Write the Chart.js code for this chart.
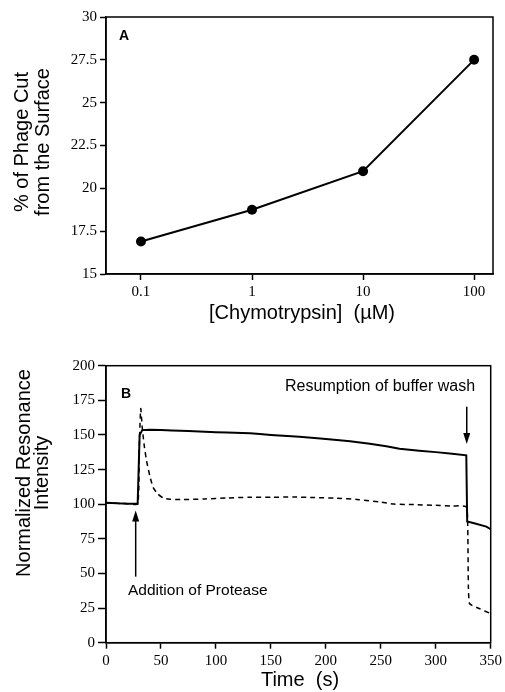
<!DOCTYPE html>
<html>
<head>
<meta charset="utf-8">
<script src="https://cdn.jsdelivr.net/npm/chart.js"></script>
<style>
  html, body { margin: 0; padding: 0; background: #fff; }
  #wrap { position: relative; width: 505px; height: 692px; }
  canvas { position: absolute; left: 0; display: block; }
  #chartA { top: 0; }
  #chartB { top: 330px; }
</style>
</head>
<body>
<div id="wrap">
  <canvas id="chartA" width="505" height="330"></canvas>
  <canvas id="chartB" width="505" height="362"></canvas>
</div>
<script>
// Panel A: % phage cut vs chymotrypsin concentration (log axis)
const concentrations = [0.1, 1, 10, 100];
const percentCut = [16.9, 18.75, 21.0, 27.5];
const concTicks = [0.1, 1, 10, 100];
const percentTicks = [15, 17.5, 20, 22.5, 25, 27.5, 30];

// Panel B: normalized resonance intensity over time
const timeSolid = [0, 10, 20, 28.8, 30.6, 33, 40, 50, 60, 75, 90, 100, 110, 131, 140, 150, 165, 176, 195, 210, 222, 240, 255, 267, 285, 300, 315, 327.8, 328.6, 335, 346, 350];
const intensitySolid = [101, 100.6, 100.4, 100.3, 150, 153.5, 153.8, 153.6, 153.3, 152.8, 152.3, 152, 151.7, 151.2, 150.6, 150, 149.2, 148.7, 147.4, 146.3, 145.5, 143.6, 141.8, 140, 138.6, 137.6, 136.4, 135.3, 87.5, 86.2, 83.8, 82];

const timeDashed = [0, 10, 20, 28.8, 30.2, 31.6, 33, 35, 37, 40, 43, 47, 52, 58, 70, 90, 110, 130, 150, 170, 190, 210, 230, 250, 262, 280, 300, 315, 327.5, 329, 329.7, 330.6, 333, 340, 350];
const intensityDashed = [101, 100.6, 100.4, 100.3, 140, 169, 155, 141, 131, 120, 112, 107.5, 104.5, 103.6, 103.3, 103.8, 104.5, 105, 105, 105.2, 104.8, 104.3, 103.3, 101.5, 100.1, 99.7, 99.2, 98.7, 98.2, 88, 40, 28.5, 27, 24.5, 21];

const timeTicks = [0, 50, 100, 150, 200, 250, 300, 350];
const intensityTicks = [0, 25, 50, 75, 100, 125, 150, 175, 200];

const sansFont = "'Liberation Sans', Arial, Helvetica, sans-serif";
const serifFont = "'Liberation Serif', 'Times New Roman', serif";

function toPoints(xs, ys) {
  return xs.map((x, i) => ({ x: x, y: ys[i] }));
}

// draws the box around the plot area
function drawFrame(chart) {
  const a = chart.chartArea;
  const ctx = chart.ctx;
  ctx.save();
  ctx.strokeStyle = "#000";
  ctx.lineWidth = 1.5;
  ctx.strokeRect(a.left, a.top, a.right - a.left, a.bottom - a.top);
  ctx.restore();
}

function drawArrow(ctx, x, yFrom, yTip) {
  const dir = yTip > yFrom ? 1 : -1;
  ctx.beginPath();
  ctx.moveTo(x, yFrom);
  ctx.lineTo(x, yTip - dir * 8);
  ctx.stroke();
  ctx.beginPath();
  ctx.moveTo(x, yTip);
  ctx.lineTo(x - 3.5, yTip - dir * 11);
  ctx.lineTo(x + 3.5, yTip - dir * 11);
  ctx.closePath();
  ctx.fill();
}

function drawRotatedLines(ctx, lines, cx, cy, lineGap) {
  ctx.save();
  ctx.translate(cx, cy);
  ctx.rotate(-Math.PI / 2);
  ctx.textAlign = "center";
  ctx.textBaseline = "middle";
  lines.forEach((t, i) => {
    ctx.fillText(t, 0, (i - (lines.length - 1) / 2) * lineGap);
  });
  ctx.restore();
}

function axisBase() {
  return {
    border: { display: true, color: "#000", width: 1.5 },
    grid: { display: true, drawOnChartArea: false, drawTicks: true, tickLength: 6, tickColor: "#000", tickWidth: 1.5 },
    ticks: { color: "#000", font: { family: serifFont, size: 15 }, padding: 3, autoSkip: false, maxRotation: 0 }
  };
}

// ---- Chart A ----
const xA = axisBase();
const yA = axisBase();

new Chart(document.getElementById("chartA"), {
  type: "line",
  data: {
    datasets: [{
      data: toPoints(concentrations, percentCut),
      borderColor: "#000",
      borderWidth: 2,
      backgroundColor: "#000",
      pointRadius: 5,
      pointBackgroundColor: "#000",
      pointBorderWidth: 0,
      tension: 0
    }]
  },
  options: {
    responsive: false,
    animation: false,
    layout: { padding: { left: 0, right: 12, top: 17, bottom: 0 } },
    plugins: { legend: { display: false }, tooltip: { enabled: false } },
    scales: {
      x: Object.assign(xA, {
        type: "logarithmic",
        min: 0.0484,
        max: 148,
        afterBuildTicks: (s) => { s.ticks = concTicks.map((v) => ({ value: v })); },
        afterFit: (s) => { s.height = 56; }
      }),
      y: Object.assign(yA, {
        type: "linear",
        min: 15,
        max: 30,
        afterBuildTicks: (s) => { s.ticks = percentTicks.map((v) => ({ value: v })); },
        afterFit: (s) => { s.width = 106; }
      })
    }
  },
  plugins: [{
    id: "decorA",
    afterDraw(chart) {
      drawFrame(chart);
      const ctx = chart.ctx;
      ctx.save();
      ctx.fillStyle = "#000";
      ctx.font = "bold 14px " + sansFont;
      ctx.textAlign = "left";
      ctx.textBaseline = "middle";
      ctx.fillText("A", 119, 36);
      ctx.font = "20px " + sansFont;
      ctx.textAlign = "center";
      ctx.fillText("[Chymotrypsin]  (\u00b5M)", 302, 313);
      drawRotatedLines(ctx, ["% of Phage Cut", "from the Surface"], 33, 142, 21);
      ctx.restore();
    }
  }]
});

// ---- Chart B ----
const xB = axisBase();
const yB = axisBase();
yB.grid.tickLength = 8;

new Chart(document.getElementById("chartB"), {
  type: "line",
  data: {
    datasets: [
      {
        data: toPoints(timeSolid, intensitySolid),
        borderColor: "#000",
        borderWidth: 2,
        pointRadius: 0,
        tension: 0
      },
      {
        data: toPoints(timeDashed, intensityDashed),
        borderColor: "#000",
        borderWidth: 1.5,
        borderDash: [5, 4],
        pointRadius: 0,
        tension: 0.2
      }
    ]
  },
  options: {
    responsive: false,
    animation: false,
    layout: { padding: { left: 0, right: 14.3, top: 35.7, bottom: 0 } },
    plugins: { legend: { display: false }, tooltip: { enabled: false } },
    scales: {
      x: Object.assign(xB, {
        type: "linear",
        min: 0,
        max: 350,
        afterBuildTicks: (s) => { s.ticks = timeTicks.map((v) => ({ value: v })); },
        afterFit: (s) => { s.height = 49.3; }
      }),
      y: Object.assign(yB, {
        type: "linear",
        min: 0,
        max: 200,
        afterBuildTicks: (s) => { s.ticks = intensityTicks.map((v) => ({ value: v })); },
        afterFit: (s) => { s.width = 106; }
      })
    }
  },
  plugins: [{
    id: "decorB",
    afterDraw(chart) {
      drawFrame(chart);
      const ctx = chart.ctx;
      const xs = chart.scales.x;
      const ys = chart.scales.y;
      ctx.save();
      ctx.fillStyle = "#000";
      ctx.strokeStyle = "#000";
      ctx.lineWidth = 1.5;

      ctx.font = "bold 14px " + sansFont;
      ctx.textAlign = "left";
      ctx.textBaseline = "middle";
      ctx.fillText("B", 121, 64);

      // protease arrow + label
      drawArrow(ctx, xs.getPixelForValue(27), ys.getPixelForValue(47.7), ys.getPixelForValue(95.5));
      ctx.font = "15.5px " + sansFont;
      ctx.textAlign = "left";
      ctx.fillText("Addition of Protease", xs.getPixelForValue(20), ys.getPixelForValue(37.3));

      // buffer wash arrow + label
      drawArrow(ctx, xs.getPixelForValue(328.2), ys.getPixelForValue(170.4), ys.getPixelForValue(143.5));
      ctx.font = "16px " + sansFont;
      ctx.textAlign = "right";
      ctx.fillText("Resumption of buffer wash", xs.getPixelForValue(335.8), ys.getPixelForValue(184.8));

      ctx.font = "20px " + sansFont;
      ctx.textAlign = "center";
      ctx.fillText("Time  (s)", 300, 350);
      drawRotatedLines(ctx, ["Normalized Resonance", "Intensity"], 33, 143, 18);
      ctx.restore();
    }
  }]
});
</script>
</body>
</html>
